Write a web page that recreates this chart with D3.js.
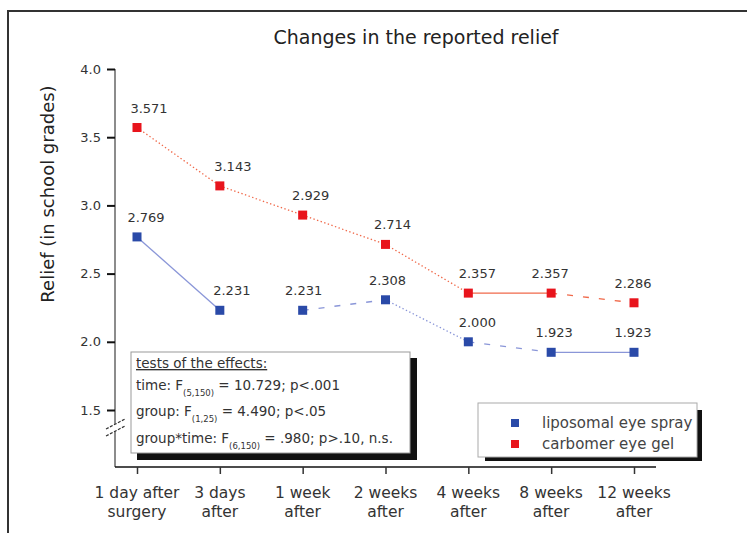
<!DOCTYPE html>
<html>
<head>
<meta charset="utf-8">
<script src="https://cdn.jsdelivr.net/npm/d3@7"></script>
<style>
  html, body { margin: 0; padding: 0; background: #fff; }
  svg { display: block; font-family: "DejaVu Sans", "Liberation Sans", Arial, sans-serif; }
</style>
</head>
<body>
<svg id="chart" width="747" height="533"></svg>
<script>
// Time points (two-line labels)
const categories = [
  ["1 day after", "surgery"],
  ["3 days", "after"],
  ["1 week", "after"],
  ["2 weeks", "after"],
  ["4 weeks", "after"],
  ["8 weeks", "after"],
  ["12 weeks", "after"]
];
const sprayValues = [2.769, 2.231, 2.231, 2.308, 2.000, 1.923, 1.923];
const gelValues   = [3.571, 3.143, 2.929, 2.714, 2.357, 2.357, 2.286];
// style of each connecting segment
const spraySegments = ["solid", "none", "dashed", "dotted", "dashed", "solid"];
const gelSegments   = ["dotted", "dotted", "dotted", "dotted", "solid", "dashed"];
const yTicks = [1.5, 2.0, 2.5, 3.0, 3.5, 4.0];
const seriesNames = ["liposomal eye spray", "carbomer eye gel"];

// small horizontal nudges for the value labels
const gelLabelDx   = [12, 13, 8, 7, 9, -1, -1];
const sprayLabelDx = [9, 12, 1, 2, 9, 3, -1];

const svg = d3.select("#chart");

// outer frame
svg.append("path")
  .attr("d", "M8,533 L8,11 L747,11")
  .attr("fill", "none").attr("stroke", "#333").attr("stroke-width", 2);

// title
svg.append("text")
  .attr("x", 416).attr("y", 44)
  .attr("text-anchor", "middle")
  .attr("font-size", 19).attr("fill", "#222")
  .text("Changes in the reported relief");

const x = d3.scalePoint()
  .domain(d3.range(categories.length))
  .range([137, 634]);
const y = d3.scaleLinear().domain([1.5, 4.0]).range([410, 69]);

const axisX = 115, axisBottom = 467;

// y axis
svg.append("line")
  .attr("x1", axisX).attr("x2", axisX)
  .attr("y1", y(4.0)).attr("y2", axisBottom)
  .attr("stroke", "#666").attr("stroke-width", 1.5);

const yAxis = d3.axisLeft(y).tickValues(yTicks).tickFormat(d3.format(".1f"))
  .tickSize(8).tickPadding(6);
const gy = svg.append("g").attr("transform", `translate(${axisX},0)`).call(yAxis);
gy.select(".domain").remove();
gy.selectAll(".tick line").attr("stroke", "#111").attr("stroke-width", 2);
gy.selectAll(".tick text").attr("font-size", 13).attr("fill", "#333")
  .attr("font-family", "DejaVu Sans, sans-serif");

// axis break mark
const brk = svg.append("g");
brk.append("path")
  .attr("d", "M106,429 L125,419 L125,426 L106,436 Z")
  .attr("fill", "#fff");
[0, 7].forEach(o => {
  brk.append("line")
    .attr("x1", 106).attr("y1", 429 + o).attr("x2", 125).attr("y2", 419 + o)
    .attr("stroke", "#333").attr("stroke-width", 1.2)
    .attr("stroke-dasharray", "3,1.5");
});

// x axis
svg.append("line")
  .attr("x1", axisX).attr("x2", 656)
  .attr("y1", axisBottom).attr("y2", axisBottom)
  .attr("stroke", "#111").attr("stroke-width", 1.5);

const gx = svg.append("g").attr("transform", `translate(0,${axisBottom})`)
  .call(d3.axisBottom(x).tickSize(7).tickFormat(""));
gx.select(".domain").remove();
gx.selectAll(".tick line").attr("stroke", "#333").attr("stroke-width", 1.5);

categories.forEach((lines, i) => {
  const t = svg.append("text")
    .attr("x", x(i)).attr("y", 498)
    .attr("text-anchor", "middle")
    .attr("font-size", 15.5).attr("fill", "#333");
  lines.forEach((ln, j) => {
    t.append("tspan").attr("x", x(i)).attr("dy", j === 0 ? 0 : 19).text(ln);
  });
});

// connecting segments
const dashFor = { solid: null, dotted: "1.4,2.4", dashed: "6,10" };
function drawSegments(values, styles, color) {
  styles.forEach((s, i) => {
    if (s === "none") return;
    svg.append("line")
      .attr("x1", x(i)).attr("y1", y(values[i]))
      .attr("x2", x(i + 1)).attr("y2", y(values[i + 1]))
      .attr("stroke", color).attr("stroke-width", 1.3)
      .attr("stroke-dasharray", dashFor[s]);
  });
}
drawSegments(gelValues, gelSegments, "#f0694a");
drawSegments(sprayValues, spraySegments, "#8a96d8");

// markers and value labels
function drawPoints(values, color, nudges) {
  const g = svg.append("g");
  g.selectAll("rect").data(values).join("rect")
    .attr("x", (d, i) => x(i) - 4.5).attr("y", d => y(d) - 4.5)
    .attr("width", 9).attr("height", 9).attr("fill", color);
  g.selectAll("text").data(values).join("text")
    .attr("x", (d, i) => x(i) + nudges[i]).attr("y", d => y(d) - 15)
    .attr("text-anchor", "middle")
    .attr("font-size", 13).attr("fill", "#333")
    .text(d => d3.format(".3f")(d));
}
drawPoints(gelValues, "#e8141c", gelLabelDx);
drawPoints(sprayValues, "#2a4aa8", sprayLabelDx);

// statistics box with shadow
const sb = svg.append("g");
sb.append("rect").attr("x", 137).attr("y", 358).attr("width", 280).attr("height", 102).attr("fill", "#111");
sb.append("rect").attr("x", 131).attr("y", 352).attr("width", 279).attr("height", 101)
  .attr("fill", "#fff").attr("stroke", "#999").attr("stroke-width", 1);

const statLines = [
  { parts: [["tests of the effects:", false]], underline: true },
  { parts: [["time: F", false], ["(5,150)", true], [" = 10.729; p<.001", false]] },
  { parts: [["group: F", false], ["(1,25)", true], [" = 4.490; p<.05", false]] },
  { parts: [["group*time: F", false], ["(6,150)", true], [" = .980; p>.10, n.s.", false]] }
];
const statY = [368, 390, 416, 443];
statLines.forEach((ln, i) => {
  const t = sb.append("text").attr("x", 136).attr("y", statY[i])
    .attr("font-size", 13.5).attr("fill", "#333");
  if (ln.underline) t.attr("text-decoration", "underline");
  ln.parts.forEach(([txt, sub], k) => {
    const ts = t.append("tspan").text(txt);
    if (sub) ts.attr("font-size", 8.5).attr("dy", 6);
    else if (k > 0) ts.attr("dy", -6);
  });
});

// legend
const lg = svg.append("g");
lg.append("rect").attr("x", 485).attr("y", 410).attr("width", 217).attr("height", 51).attr("fill", "#111");
lg.append("rect").attr("x", 478).attr("y", 403).attr("width", 219).attr("height", 54)
  .attr("fill", "#fff").attr("stroke", "#aaa").attr("stroke-width", 1);
const legendColors = ["#2a4aa8", "#e8141c"];
seriesNames.forEach((name, i) => {
  const yy = 423 + i * 21;
  lg.append("rect").attr("x", 511).attr("y", yy - 4).attr("width", 8).attr("height", 8)
    .attr("fill", legendColors[i]);
  lg.append("text").attr("x", 542).attr("y", yy + 5)
    .attr("font-size", 15).attr("fill", "#444").text(name);
});

// y axis title
svg.append("text")
  .attr("transform", "translate(54,194) rotate(-90)")
  .attr("text-anchor", "middle")
  .attr("font-size", 18).attr("fill", "#222")
  .text("Relief (in school grades)");
</script>
</body>
</html>
